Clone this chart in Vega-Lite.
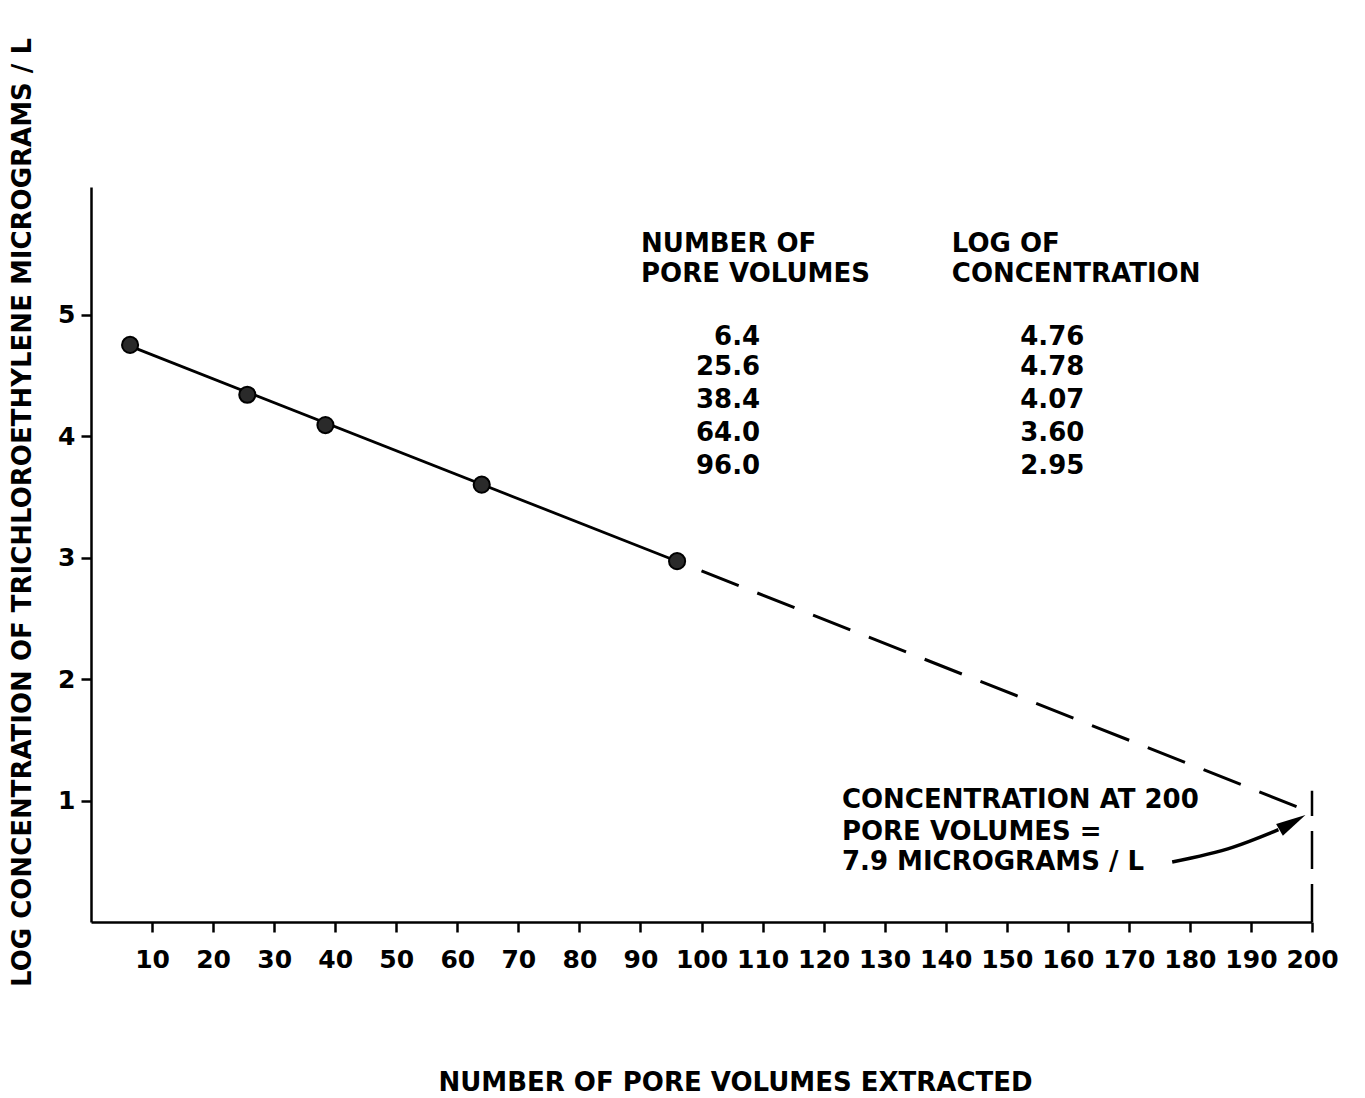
{
  "$schema": "https://vega.github.io/schema/vega-lite/v6.json",
  "autosize": {"type": "none"},
  "padding": {"left": 91, "top": 187, "right": 53, "bottom": 176},
  "width": 1221,
  "height": 735,
  "background": "white",
  "config": {
    "view": {"stroke": null},
    "font": "DejaVu Sans",
    "axis": {
      "domainColor": "black",
      "domainWidth": 2.5,
      "tickColor": "black",
      "tickWidth": 2.5,
      "tickSize": 10,
      "grid": false,
      "labelFont": "DejaVu Sans",
      "labelFontSize": 25,
      "labelFontWeight": "bold",
      "labelColor": "black",
      "titleFont": "DejaVu Sans",
      "titleFontSize": 26,
      "titleFontWeight": "bold",
      "titleColor": "black"
    }
  },
  "datasets": {
    "points": [
      {"pv": 6.4, "logc": 4.75},
      {"pv": 25.6, "logc": 4.34},
      {"pv": 38.4, "logc": 4.09},
      {"pv": 64.0, "logc": 3.6},
      {"pv": 96.0, "logc": 2.97}
    ],
    "fit": [
      {"pv": 6.4, "logc": 4.74},
      {"pv": 96.0, "logc": 2.97}
    ],
    "extrap": [
      {"pv": 100, "logc": 2.89},
      {"pv": 200, "logc": 0.9}
    ],
    "arrow": [
      {"pv": 177.1, "logc": 0.494, "o": 1},
      {"pv": 187.1, "logc": 0.617, "o": 2},
      {"pv": 194.5, "logc": 0.76, "o": 3}
    ],
    "head": [
      {"pv": 196.8, "logc": 0.82}
    ],
    "labelsLeft": [
      {"pv": 90.1, "logc": 5.58, "t": "NUMBER OF"},
      {"pv": 90.1, "logc": 5.33, "t": "PORE VOLUMES"},
      {"pv": 141.0, "logc": 5.58, "t": "LOG OF"},
      {"pv": 141.0, "logc": 5.33, "t": "CONCENTRATION"},
      {"pv": 152.2, "logc": 4.815, "t": "4.76"},
      {"pv": 152.2, "logc": 4.568, "t": "4.78"},
      {"pv": 152.2, "logc": 4.296, "t": "4.07"},
      {"pv": 152.2, "logc": 4.025, "t": "3.60"},
      {"pv": 152.2, "logc": 3.753, "t": "2.95"},
      {"pv": 123.0, "logc": 1.004, "t": "CONCENTRATION AT 200"},
      {"pv": 123.0, "logc": 0.741, "t": "PORE VOLUMES ="},
      {"pv": 123.0, "logc": 0.494, "t": "7.9 MICROGRAMS / L"}
    ],
    "labelsRight": [
      {"pv": 109.6, "logc": 4.815, "t": "6.4"},
      {"pv": 109.6, "logc": 4.568, "t": "25.6"},
      {"pv": 109.6, "logc": 4.296, "t": "38.4"},
      {"pv": 109.6, "logc": 4.025, "t": "64.0"},
      {"pv": 109.6, "logc": 3.753, "t": "96.0"}
    ]
  },
  "encoding": {
    "x": {
      "field": "pv", "type": "quantitative",
      "scale": {"domain": [0, 200], "nice": false, "zero": false},
      "axis": {
        "title": "NUMBER OF PORE VOLUMES EXTRACTED",
        "values": [10,20,30,40,50,60,70,80,90,100,110,120,130,140,150,160,170,180,190,200],
        "labelPadding": 15,
        "labelFlush": false,
        "labelOverlap": false,
        "titleX": 644,
        "titleY": 160,
        "titleBaseline": "middle",
        "titleAnchor": null
      }
    },
    "y": {
      "field": "logc", "type": "quantitative",
      "scale": {"domain": [0, 6.05], "nice": false},
      "axis": {
        "title": "LOG CONCENTRATION OF TRICHLOROETHYLENE MICROGRAMS / L",
        "values": [1, 2, 3, 4, 5],
        "labelPadding": 6,
        "titleAngle": 270,
        "titleX": -69,
        "titleY": 325,
        "titleAlign": "center",
        "titleBaseline": "middle"
      }
    }
  },
  "layer": [
    {
      "data": {"name": "fit"},
      "mark": {"type": "line", "color": "black", "strokeWidth": 2.8}
    },
    {
      "data": {"name": "extrap"},
      "mark": {"type": "line", "color": "black", "strokeWidth": 3, "strokeDash": [40, 20]}
    },
    {
      "data": {"values": [{"pv": 200, "logc": 0, "top": 1.08}]},
      "mark": {"type": "rule", "color": "black", "strokeWidth": 2.5, "strokeDash": [38, 15]},
      "encoding": {"y2": {"field": "top"}}
    },
    {
      "data": {"name": "points"},
      "mark": {"type": "point", "filled": true, "fill": "#2a2a2a", "stroke": "black", "strokeWidth": 2, "size": 260, "opacity": 1}
    },
    {
      "data": {"name": "arrow"},
      "mark": {"type": "line", "color": "black", "strokeWidth": 3.5, "interpolate": "monotone"},
      "encoding": {"order": {"field": "o"}}
    },
    {
      "data": {"name": "head"},
      "mark": {"type": "point", "shape": "M-1,-0.45L1,0L-1,0.45Z", "filled": true, "color": "black", "size": 900, "angle": 330, "opacity": 1}
    },
    {
      "data": {"name": "labelsLeft"},
      "mark": {"type": "text", "fontSize": 26, "fontWeight": "bold", "font": "DejaVu Sans", "color": "black", "baseline": "middle", "align": "left"},
      "encoding": {"text": {"field": "t"}}
    },
    {
      "data": {"name": "labelsRight"},
      "mark": {"type": "text", "fontSize": 26, "fontWeight": "bold", "font": "DejaVu Sans", "color": "black", "baseline": "middle", "align": "right"},
      "encoding": {"text": {"field": "t"}}
    }
  ]
}
